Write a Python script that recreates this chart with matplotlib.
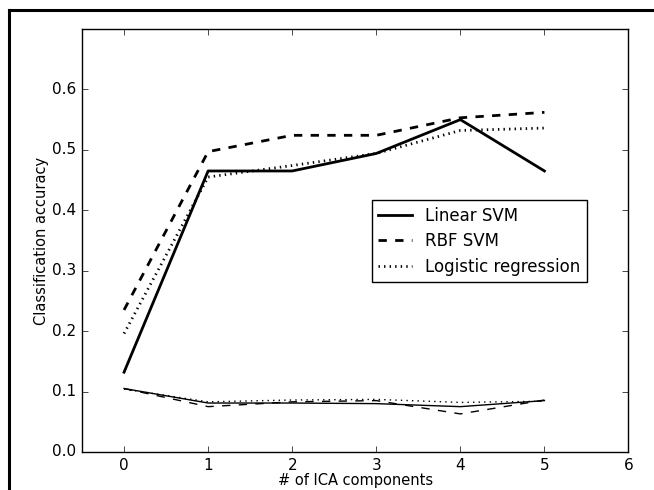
import numpy as np
import matplotlib
matplotlib.use('Agg')
import matplotlib.pyplot as plt
from matplotlib.lines import Line2D

# number of ICA components
n_components = [0, 1, 2, 3, 4, 5]

# accuracy (upper curves)
linear_svm = [0.132, 0.465, 0.465, 0.494, 0.550, 0.465]
rbf_svm = [0.235, 0.497, 0.524, 0.524, 0.553, 0.562]
logistic = [0.196, 0.455, 0.474, 0.494, 0.532, 0.536]

# lower curves (thin lines)
linear_svm_low = [0.105, 0.081, 0.081, 0.080, 0.075, 0.085]
rbf_svm_low = [0.105, 0.075, 0.083, 0.085, 0.063, 0.086]
logistic_low = [0.104, 0.083, 0.086, 0.087, 0.082, 0.084]

labels = ['Linear SVM', 'RBF SVM', 'Logistic regression']

plt.style.use('classic')
fig = plt.figure(figsize=(6.54, 4.9), dpi=100, facecolor='white')
ax = fig.add_axes([0.1254, 0.0776, 0.8356, 0.8633])

ax.plot(n_components, linear_svm, 'k-', lw=2, label=labels[0])
ax.plot(n_components, rbf_svm, 'k--', lw=2, label=labels[1])
ax.plot(n_components, logistic, 'k:', lw=2, label=labels[2])

ax.plot(n_components, linear_svm_low, 'k-', lw=1)
ax.plot(n_components, rbf_svm_low, 'k--', lw=1)
ax.plot(n_components, logistic_low, 'k:', lw=1)

ax.set_xlim(-0.5, 6)
ax.set_ylim(0, 0.7)
ax.set_xticks(range(0, 7))
ax.set_yticks(np.arange(0, 0.61, 0.1))
ax.tick_params(labelsize=11)
ax.set_xlabel('# of ICA components', fontsize=10.5, labelpad=0)
ax.set_ylabel('Classification accuracy', fontsize=10.5, labelpad=2)

ax.legend(loc='upper left', bbox_to_anchor=(0.53, 0.596), fontsize=12,
          fancybox=False, numpoints=1, borderaxespad=0, labelspacing=0.45)

# frame around the figure (cropped on right and bottom)
fig.add_artist(Line2D([9 / 654, 1], [1 - 10 / 490, 1 - 10 / 490], color='k', lw=2.2,
                      transform=fig.transFigure))
fig.add_artist(Line2D([9 / 654, 9 / 654], [0, 1 - 10 / 490], color='k', lw=2.2,
                      transform=fig.transFigure))

fig.savefig('out.png', dpi=100, facecolor='white')
